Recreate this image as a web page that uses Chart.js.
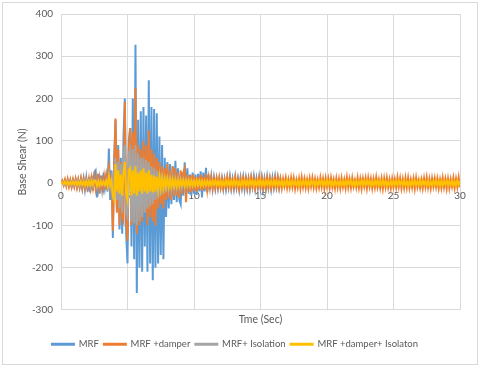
<!DOCTYPE html>
<html>
<head>
<meta charset="utf-8">
<title>Base Shear</title>
<script src="https://cdn.jsdelivr.net/npm/chart.js@4.4.1/dist/chart.umd.min.js"></script>
<style>
    html, body { margin: 0; padding: 0; background: #ffffff; }
    #wrap { width: 480px; height: 367px; }
</style>
</head>
<body>
<div id="wrap"><canvas id="shearChart" width="480" height="367"></canvas></div>
<script>
// sample times: 0.1 s steps from 0 to 30 s
var times = [];
for (var i = 0; i <= 300; i++) times.push(i / 10);

var xTicks = [0, 5, 10, 15, 20, 25, 30];
var yTicks = [-300, -200, -100, 0, 100, 200, 300, 400];

var seriesNames = ['MRF', 'MRF +damper', 'MRF+ Isolation', 'MRF +damper+ Isolaton'];

// MRF (one row = 1 s)
var mrf = [
    0, 3, -4, 6, -5, 7, -6, 5, -8, 6,
    -7, 8, -9, 7, -10, 9, -12, 10, -15, 12,
    -20, 14, -22, 18, -18, 25, 30, -34, 22, -25,
    18, -15, 12, -12, 15, -20, 82, -40, 30, -130,
    60, 150, -60, 90, -110, 60, -120, 110, 200, -120,
    -190, 100, 130, -150, 200, -180, 327, -260, 150, -200,
    170, -210, 180, -150, 160, -210, 243, -190, 180, -230,
    175, -200, 165, -190, 110, -170, 90, -180, 60, -80,
    50, -60, 45, -50, 40, -40, 53, -45, 35, -40,
    -50, 25, -30, 49, -30, 35, -25, 20, -30, 25,
    -25, 20, -28, 22, -20, 28, -34, 25, -20, 36,
    -22, 20, -15, 15, -14, 12, -12, 10, -12, 10,
    -10, 11, -13, 9, -14, 12, -10, 15, -12, 10,
    -13, 14, -11, 9, -15, 12, -10, 13, -14, 11,
    -12, 10, -14, 12, -9, 15, -13, 11, -10, 14,
    -12, 12, -15, 10, -13, 14, -11, 9, -14, 12,
    -10, 15, -9, 12, -11, 10, -6, 4, -5, 3,
    -4, 5, -3, 4, -5, 2, -4, 3, -5, 4,
    -3, 4, -5, 3, -4, 2, -5, 4, -3, 5,
    -4, 3, -4, 5, -3, 4, -5, 2, -4, 3,
    -5, 4, -3, 5, -4, 3, -5, 4, -2, 5,
    -4, 3, -5, 4, -3, 2, -4, 5, -3, 4,
    -5, 5, -4, 3, -5, 4, -3, 2, -5, 4,
    -3, 3, -4, 5, -3, 4, -5, 3, -4, 2,
    -4, 4, -5, 3, -4, 5, -3, 4, -5, 3,
    -4, 2, -4, 5, -3, 4, -5, 3, -4, 5,
    -3, 4, -3, 5, -4, 3, -5, 4, -3, 2,
    -5, 3, -5, 4, -3, 5, -4, 3, -5, 4,
    -3, 5, -4, 3, -5, 4, -3, 5, -4, 3,
    -4, 4, -3, 2, -5, 4, -3, 5, -4, 3,
    -5
];

// MRF +damper
var mrfDamper = [
    0, 6, -5, 8, -7, 9, -8, 7, -9, 8,
    -8, 9, -10, 8, -9, 10, -12, 9, -10, 8,
    -10, 10, -12, 12, -10, 15, -12, 10, -15, 12,
    -10, 10, -12, 15, -15, 25, 40, -20, 20, -113,
    40, 153, -70, 80, -100, 50, -80, -90, 192, -60,
    -137, 80, 130, -100, 120, -80, 225, -120, 90, -100,
    80, -90, 100, -70, 90, -100, 125, -80, 80, -90,
    70, -100, 60, -60, 50, -50, 40, -60, 35, -40,
    45, -35, 30, -40, 40, -30, 35, -30, 25, -35,
    30, -25, 25, 35, -45, 20, -20, 18, -22, 20,
    -18, 15, -20, 15, -15, 20, -18, 15, -15, 22,
    -15, 12, -12, 12, -10, 10, -12, 10, -10, 12,
    -10, 9, -12, 7, -10, 13, -8, 11, -12, 6,
    -10, 12, -9, 10, -13, 8, -11, 12, -7, 10,
    -12, 9, -11, 13, -8, 10, -12, 7, -10, 11,
    -9, 12, -10, 8, -13, 10, -9, 12, -11, 7,
    -10, 11, -8, 13, -10, 9, -12, 10, -7, 12,
    -11, 8, -10, 12, -9, 11, -13, 7, -10, 10,
    -12, 13, -9, 10, -11, 8, -12, 11, -8, 12,
    -10, 9, -12, 7, -10, 12, -9, 10, -13, 11,
    -8, 10, -11, 12, -9, 8, -12, 11, -10, 9,
    -12, 11, -9, 8, -12, 13, -10, 9, -11, 12,
    -8, 7, -10, 12, -11, 9, -13, 10, -8, 11,
    -12, 12, -8, 10, -12, 9, -10, 13, -9, 8,
    -11, 10, -13, 11, -9, 12, -10, 8, -12, 10,
    -9, 9, -10, 13, -8, 11, -12, 9, -11, 12,
    -10, 12, -11, 8, -10, 10, -13, 12, -9, 7,
    -11, 8, -12, 11, -9, 13, -10, 9, -12, 11,
    -8, 11, -9, 10, -12, 8, -11, 12, -10, 9,
    -13, 10, -12, 9, -8, 12, -11, 10, -9, 13,
    -10
];

// MRF+ Isolation
var mrfIsolation = [
    0, 2, -3, 3, -3, 4, -4, 3, -4, 4,
    -4, 4, -5, 4, -5, 5, -5, 4, -6, 5,
    -6, 5, -7, 6, -6, 8, 7, -8, 6, -6,
    5, -5, 4, -5, 6, -8, 20, -10, 10, -40,
    20, 60, -40, 50, -60, 45, -70, 60, 90, -70,
    -80, 70, 80, -90, 80, -95, 90, -100, 70, -90,
    60, -80, 60, -70, 55, -60, 50, -55, 40, -50,
    35, -40, 30, -35, 25, -30, 20, -25, 18, -20,
    15, -15, 12, -14, 12, -12, 10, -12, 10, -10,
    8, -9, 8, -8, 7, -8, 6, -7, 6, -6,
    5, -6, 5, -5, 5, -5, 4, -5, 4, -4,
    4, -4, 3, -4, 3, -3, 3, -3, 3, -3,
    3, -3, 2, -3, 3, -2, 3, -3, 2, -3,
    2, -3, 3, -2, 3, -3, 2, -3, 3, -2,
    3, -2, 3, -3, 2, -3, 3, -2, 2, -3,
    3, -3, 2, -3, 3, -2, 3, -3, 3, -2,
    2, -3, 3, -2, 3, -3, 2, -3, 3, -3,
    3, -2, 3, -3, 2, -3, 3, -2, 2, -3,
    3, -3, 2, -3, 3, -2, 3, -3, 3, -2,
    2, -3, 3, -2, 3, -3, 2, -3, 2, -3,
    3, -2, 3, -3, 2, -3, 3, -2, 3, -2,
    2, -3, 3, -3, 2, -2, 3, -3, 2, -3,
    3, -2, 2, -3, 3, -3, 2, -2, 3, -3,
    2, -3, 3, -2, 3, -3, 2, -3, 3, -2,
    3, -3, 2, -3, 2, -2, 3, -3, 2, -3,
    3, -2, 3, -3, 3, -2, 2, -3, 3, -2,
    2, -3, 2, -2, 3, -3, 3, -2, 2, -3,
    3, -3, 3, -2, 2, -3, 3, -2, 3, -3,
    2, -2, 3, -3, 3, -2, 2, -3, 3, -2,
    3, -3, 2, -3, 3, -2, 3, -2, 2, -3,
    2
];

// MRF +damper+ Isolaton
var mrfDamperIsolation = [
    0, 2, -2, 3, -3, 3, -3, 2, -3, 3,
    -3, 3, -4, 3, -4, 4, -4, 3, -5, 4,
    -5, 4, -5, 5, -4, 6, 5, -6, 4, -5,
    4, -4, 3, -4, 5, -6, 15, -5, 5, -30,
    -40, 45, -20, 30, -25, 20, -30, 25, 50, -25,
    -40, 30, 35, -30, 30, -25, 40, -30, 25, -20,
    30, -25, 35, -20, 25, -25, 30, -20, 20, -22,
    18, -20, 15, -15, 15, -12, 12, -12, 10, -10,
    10, -9, 9, -8, 8, -8, 7, -8, 7, -7,
    7, -6, 6, -7, 6, -6, 6, -6, 5, -6,
    5, -5, 6, -5, 5, -6, 5, -5, 5, -5,
    5, -5, 4, -5, 5, -4, 5, -5, 4, -5,
    5, -6, 3, -5, 6, -4, 5, -6, 4, -5,
    6, -4, 5, -5, 3, -6, 5, -4, 6, -5,
    4, -5, 6, -3, 5, -6, 4, -5, 5, -4,
    6, -5, 4, -6, 5, -3, 6, -5, 4, -5,
    5, -4, 6, -5, 3, -5, 5, -6, 4, -4,
    6, -5, 4, -5, 6, -4, 3, -5, 5, -6,
    4, -5, 5, -4, 6, -5, 4, -6, 5, -3,
    5, -6, 4, -5, 5, -3, 6, -5, 4, -5,
    6, -4, 5, -5, 4, -6, 5, -4, 3, -5,
    5, -5, 4, -6, 5, -4, 6, -3, 5, -5,
    4, -6, 5, -5, 3, -4, 6, -5, 5, -4,
    6, -3, 5, -6, 4, -5, 5, -4, 6, -5,
    4, -5, 6, -4, 5, -6, 3, -5, 4, -6,
    5, -4, 5, -5, 6, -3, 4, -5, 6, -5,
    3, -6, 4, -5, 5, -4, 6, -5, 4, -4,
    6, -5, 5, -3, 4, -6, 5, -5, 3, -5,
    5, -4, 6, -5, 4, -5, 5, -6, 4, -3,
    6, -5, 4, -4, 5, -6, 3, -5, 6, -4,
    5
];

function toPoints(values) {
    var pts = [];
    var n = Math.min(values.length, times.length);
    for (var k = 0; k < n; k++) pts.push({ x: times[k], y: values[k] });
    return pts;
}

// white background + light frame like the Excel chart area
var framePlugin = {
    id: 'frame',
    beforeDraw: function (chart) {
        var ctx = chart.ctx;
        ctx.save();
        ctx.fillStyle = '#ffffff';
        ctx.fillRect(0, 0, chart.width, chart.height);
        ctx.strokeStyle = '#d9d9d9';
        ctx.lineWidth = 1;
        ctx.strokeRect(2.5, 2.5, 475, 362);
        ctx.restore();
    }
};

Chart.defaults.font.family = 'Lato, "Liberation Sans", sans-serif';
Chart.defaults.font.size = 10;
Chart.defaults.color = '#595959';

var ctx = document.getElementById('shearChart').getContext('2d');
var shearChart = new Chart(ctx, {
    type: 'line',
    data: {
        datasets: [{
            label: seriesNames[0],
            data: toPoints(mrf),
            borderColor: '#5b9bd5',
            backgroundColor: '#5b9bd5',
            borderWidth: 2,
            order: 4
        }, {
            label: seriesNames[1],
            data: toPoints(mrfDamper),
            borderColor: '#ed7d31',
            backgroundColor: '#ed7d31',
            borderWidth: 2,
            order: 3
        }, {
            label: seriesNames[2],
            data: toPoints(mrfIsolation),
            borderColor: '#a5a5a5',
            backgroundColor: '#a5a5a5',
            borderWidth: 2,
            order: 2
        }, {
            label: seriesNames[3],
            data: toPoints(mrfDamperIsolation),
            borderColor: '#ffc000',
            backgroundColor: '#ffc000',
            borderWidth: 2,
            order: 1
        }]
    },
    options: {
        responsive: false,
        animation: false,
        events: [],
        layout: {
            padding: { left: 10, right: 20, top: 14, bottom: 8 }
        },
        elements: {
            point: { radius: 0 },
            line: { tension: 0 }
        },
        scales: {
            x: {
                type: 'linear',
                position: { y: 0 },
                min: 0,
                max: 30,
                afterBuildTicks: function (scale) {
                    scale.ticks = xTicks.map(function (v) { return { value: v }; });
                },
                grid: { color: '#d9d9d9', drawTicks: false },
                border: { color: '#d9d9d9' },
                ticks: { padding: 7, maxRotation: 0 }
            },
            xTitle: {
                type: 'linear',
                position: 'bottom',
                min: 0,
                max: 30,
                grid: { display: false, drawTicks: false },
                border: { display: false },
                ticks: { display: false },
                title: {
                    display: true,
                    text: 'Tme (Sec)',
                    font: { size: 10.5 },
                    padding: { top: 3, bottom: 9 }
                }
            },
            y: {
                min: -300,
                max: 400,
                afterBuildTicks: function (scale) {
                    scale.ticks = yTicks.map(function (v) { return { value: v }; });
                },
                afterFit: function (scale) {
                    scale.width = 51;
                },
                grid: { color: '#d9d9d9', drawTicks: false },
                border: { display: false },
                ticks: { padding: 8 },
                title: {
                    display: true,
                    text: 'Base Shear (N)',
                    font: { size: 10.5 },
                    padding: { top: 6, bottom: 0 }
                }
            }
        },
        plugins: {
            legend: {
                position: 'bottom',
                labels: {
                    boxWidth: 22,
                    boxHeight: 1,
                    padding: 5,
                    font: { size: 9.5 },
                    sort: function (a, b) { return a.datasetIndex - b.datasetIndex; }
                }
            },
            tooltip: { enabled: false }
        }
    },
    plugins: [framePlugin]
});
</script>
</body>
</html>
